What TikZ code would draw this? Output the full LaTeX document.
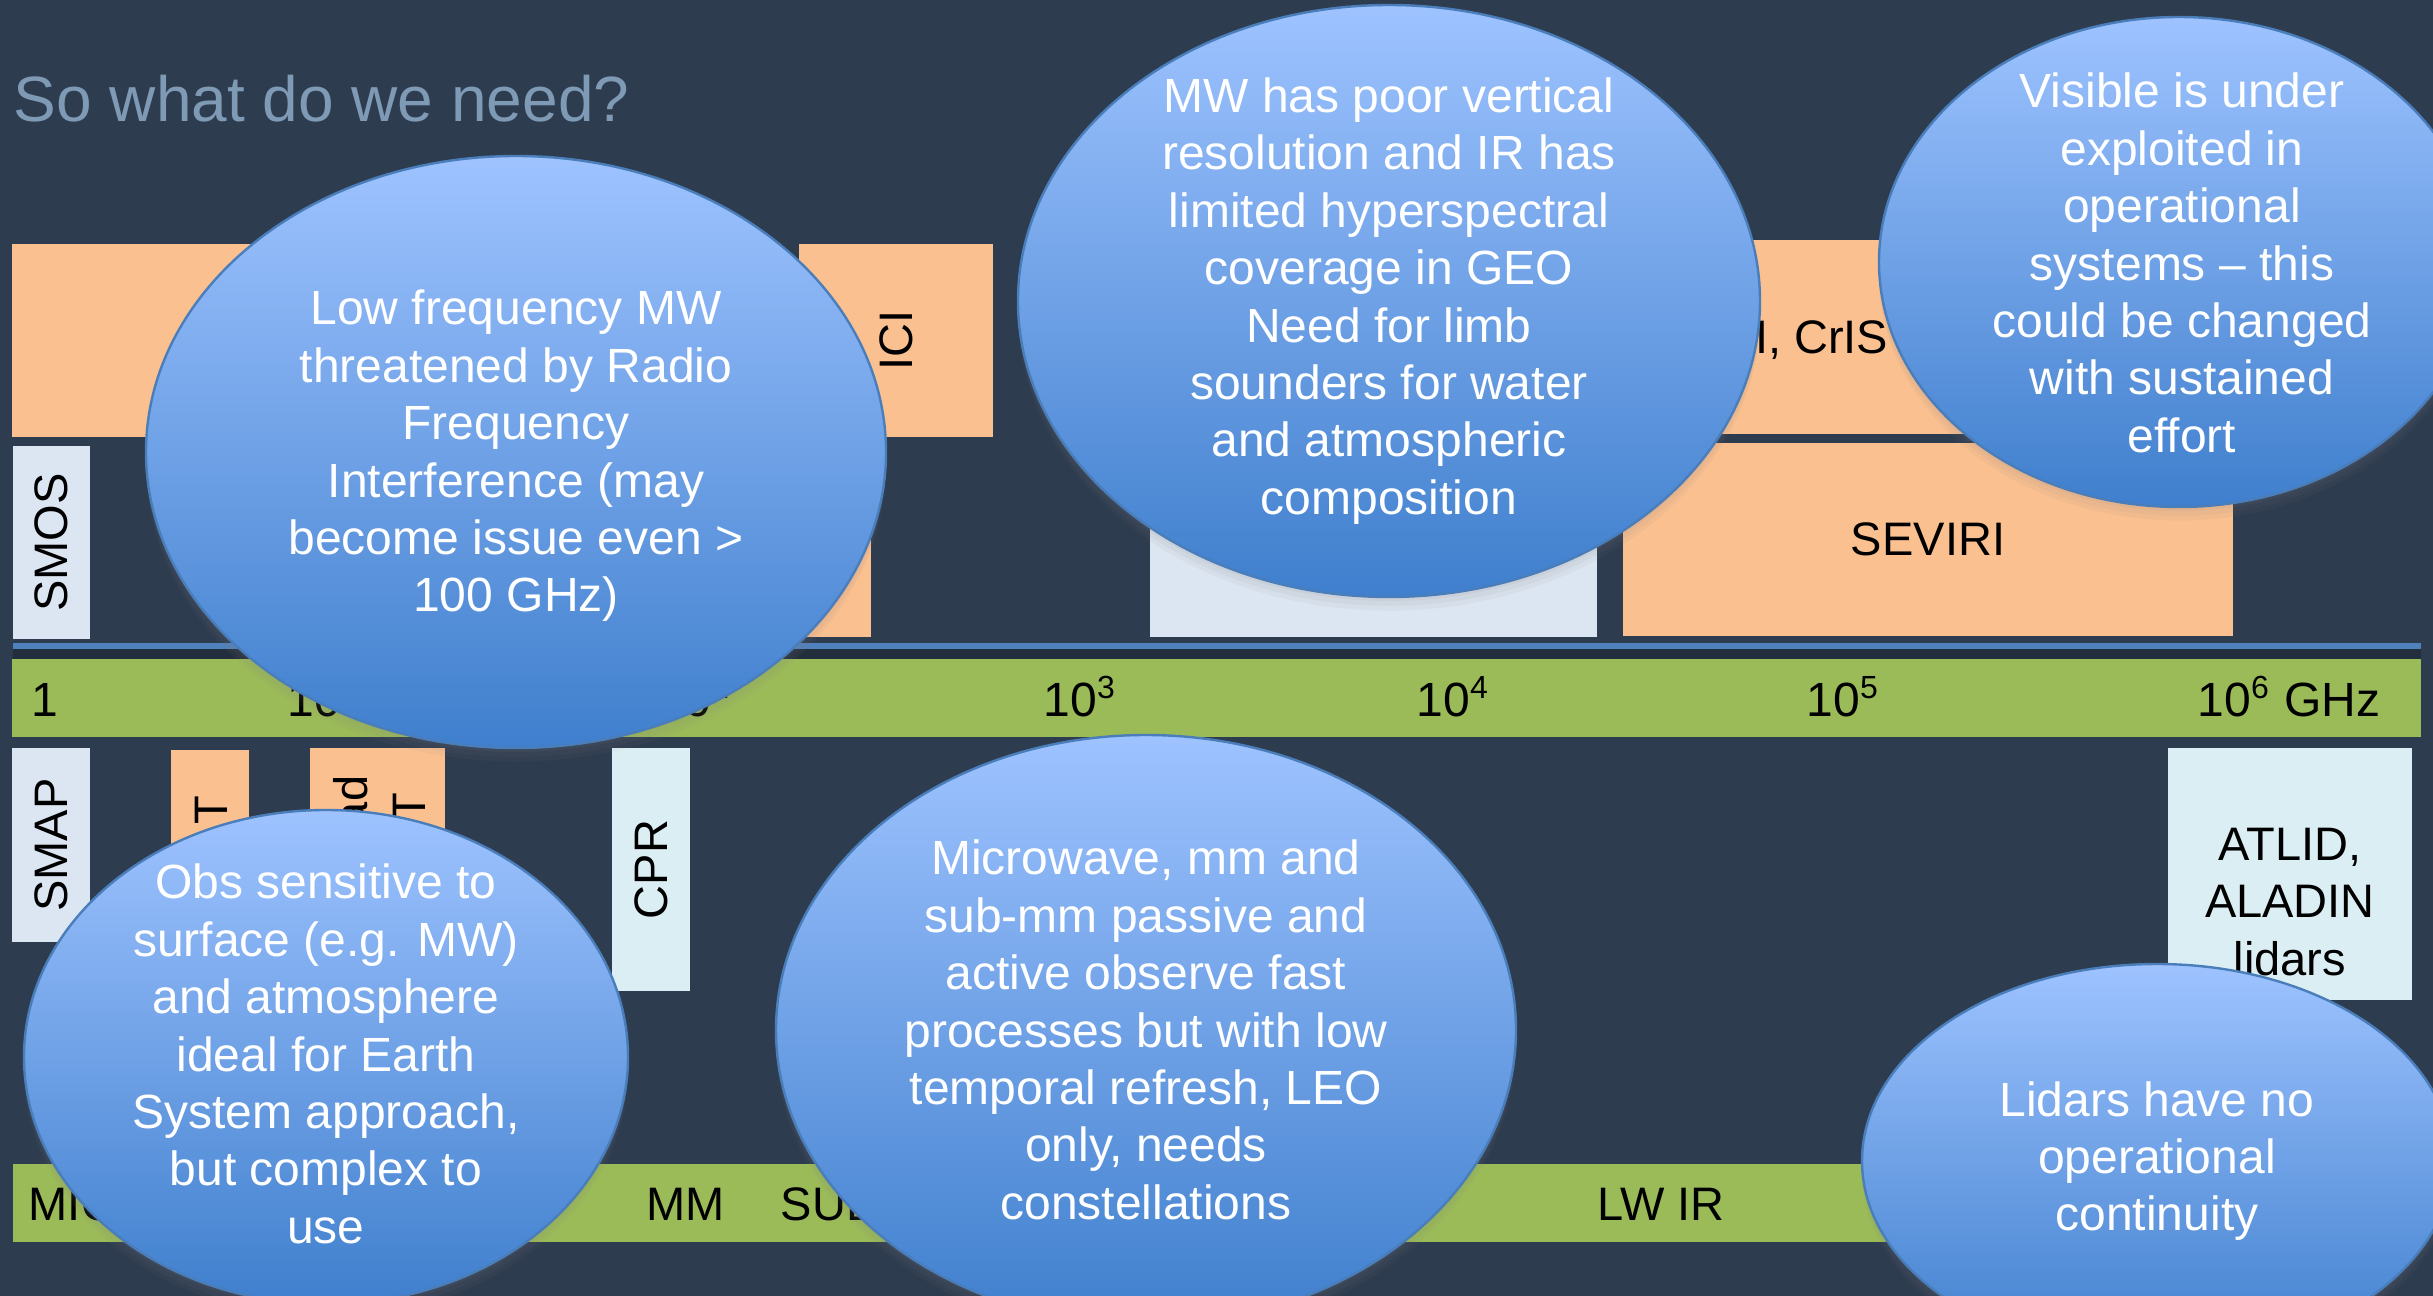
\documentclass[tikz,border=0pt]{standalone}
\usepackage{fontspec}
\setmainfont{Liberation Sans}
\usetikzlibrary{shapes.geometric,shadows,fit}
\definecolor{bg}{HTML}{2E3C4F}
\definecolor{orng}{HTML}{FAC090}
\definecolor{lgb}{HTML}{DCE6F2}
\definecolor{lcy}{HTML}{DBEEF4}
\definecolor{grn}{HTML}{9BBB59}
\definecolor{bline}{HTML}{4F81BD}
\definecolor{etop}{HTML}{9EC3FF}
\definecolor{ebot}{HTML}{3F7FCD}
\definecolor{eline}{HTML}{4A7EBB}
\definecolor{ttl}{HTML}{7F9AB5}
\begin{document}
\begin{tikzpicture}[x=0.25pt,y=-0.25pt,
  box/.style={inner sep=0pt, outer sep=0pt, draw=none},
  obox/.style={box, fill=orng},
  gbox/.style={box, fill=lgb},
  cbox/.style={box, fill=lcy},
  gbar/.style={box, fill=grn},
  lbl/.style={font=\fontsize{11.75}{14.3}\selectfont, text=black, inner sep=0pt, align=center},
  axl/.style={font=\fontsize{12}{14.4}\selectfont, text=black, inner sep=0pt, anchor=base west},
  bubble/.style={ellipse, draw=eline, line width=0.6pt, top color=etop, bottom color=ebot, inner sep=0pt,
    drop shadow={opacity=0.07, shadow xshift=0pt, shadow yshift=-1pt},
    drop shadow={opacity=0.07, shadow xshift=0pt, shadow yshift=-2.2pt},
    drop shadow={opacity=0.07, shadow xshift=0pt, shadow yshift=-3.4pt}},
  btxt/.style={font=\fontsize{12}{14.35}\selectfont, text=white, align=center, inner sep=0pt},
]
% background
\fill[bg] (0,0) rectangle (2433,1296);
\useasboundingbox (0,0) rectangle (2433,1296);

% title
\node[anchor=base west, inner sep=0pt, text=ttl, font=\fontsize{16}{19}\selectfont] (title) at (13,122) {So what do we need?};

% upper boxes
\node[obox, fit={(12,244)(700,437)}] (tl) {};
\node[obox, fit={(799,244)(993,437)}] (ici) {};
\node[lbl, rotate=90] (icit) at (ici) {ICI};
\node[gbox, fit={(13,446)(90,639)}] (smos) {};
\node[lbl, rotate=90] (smost) at (smos) {SMOS};
\node[obox, fit={(420,446)(871,637)}] (omid) {};
\node[gbox, fit={(1150,446)(1597,637)}] (gmid) {};
\node[obox, fit={(1623,240)(2233,434)}] (iasi) {};
\node[lbl, anchor=base east] (iasit) at (1889,353) {IASI, CrIS};
\node[obox, fit={(1623,443)(2233,636)}] (sev) {};
\node[lbl] (sevt) at (sev) {SEVIRI};

% blue line and axis bar
\fill[black, opacity=0.22] (13,649) rectangle (2421,659);
\node[box, fill=bline, fit={(13,643)(2421,649)}] (bl) {};
\node[gbar, fit={(12,659)(2421,737)}] (axis) {};
\node[axl] (a0) at (31,716) {1};
\node[axl] (a1) at (287,716) {10};
\node[axl] (a2) at (657,716) {10\textsuperscript{2}};
\node[axl] (a3) at (1043,716) {10\textsuperscript{3}};
\node[axl] (a4) at (1416,716) {10\textsuperscript{4}};
\node[axl] (a5) at (1806,716) {10\textsuperscript{5}};
\node[axl] (a6) at (2197,716) {10\textsuperscript{6} GHz};

% lower boxes
\node[gbox, fit={(12,748)(90,942)}] (smap) {};
\node[lbl, rotate=90] (smapt) at (smap) {SMAP};
\node[obox, fit={(171,750)(249,942)}] (t1) {};
\node[lbl, rotate=90, anchor=base east] (t1t) at (227,795) {T};
\node[obox, fit={(310,748)(445,942)}] (t2) {};
\node[lbl, rotate=90, anchor=base east] (t2a) at (367,775) {ad};
\node[lbl, rotate=90, anchor=base east] (t2b) at (425,792) {T};
\node[cbox, fit={(612,748)(690,991)}] (cpr) {};
\node[lbl, rotate=90] (cprt) at (cpr) {CPR};
\node[cbox, fit={(2168,748)(2412,1000)}] (atl) {};
\node[lbl] (atlt) at (2290,902) {ATLID,\\ALADIN\\lidars};

% bottom bar
\node[gbar, fit={(13,1164)(2421,1242)}] (bbar) {};
\node[axl, font=\fontsize{11.75}{14.3}\selectfont] (b0) at (28,1220) {MIC};
\node[axl, font=\fontsize{11.75}{14.3}\selectfont] (b1) at (646,1220) {MM};
\node[axl, font=\fontsize{11.75}{14.3}\selectfont] (b2) at (780,1220) {SUB};
\node[axl, font=\fontsize{11.75}{14.3}\selectfont] (b3) at (1597,1220) {LW IR};

% bubbles
\node[bubble, minimum width=185pt, minimum height=148pt] (e1) at (516,452) {};
\node[btxt, yshift=-1pt] (e1t) at (e1.center) {Low frequency MW\\threatened by Radio\\Frequency\\Interference (may\\become issue even >\\100 GHz)};

\node[bubble, minimum width=185.5pt, minimum height=148pt] (e2) at (1389,301) {};
\node[btxt] (e2t) at (e2.center) {MW has poor vertical\\resolution and IR has\\limited hyperspectral\\coverage in GEO\\Need for limb\\sounders for water\\and atmospheric\\composition};

\node[bubble, minimum width=150pt, minimum height=122.5pt] (e3) at (2179,262) {};
\node[btxt] (e3t) at (2182,263) {Visible is under\\exploited in\\operational\\systems – this\\could be changed\\with sustained\\effort};

\node[bubble, minimum width=151pt, minimum height=123.5pt] (e4) at (326,1057) {};
\node[btxt] (e4t) at (326,1054) {Obs sensitive to\\surface (e.g. MW)\\and atmosphere\\ideal for Earth\\System approach,\\but complex to\\use};

\node[bubble, minimum width=185pt, minimum height=147.5pt] (e5) at (1146,1030) {};
\node[btxt] (e5t) at (e5.center) {Microwave, mm and\\sub-mm passive and\\active observe fast\\processes but with low\\temporal refresh, LEO\\only, needs\\constellations};

\node[bubble, minimum width=147.5pt, minimum height=98.5pt] (e6) at (2157,1161) {};
\node[btxt] (e6t) at (e6.center) {Lidars have no\\operational\\continuity};
\end{tikzpicture}
\end{document}
